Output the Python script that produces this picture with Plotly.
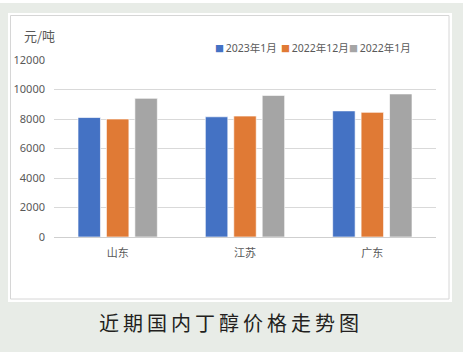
import plotly.graph_objects as go

categories = ["山东", "江苏", "广东"]
series_names = ["2023年1月", "2022年12月", "2022年1月"]
v_2023_01 = [8100, 8150, 8550]
v_2022_12 = [8000, 8200, 8450]
v_2022_01 = [9400, 9600, 9700]
colors = ["#4472C4", "#E07A35", "#A5A5A5"]
y_ticks = [0, 2000, 4000, 6000, 8000, 10000, 12000]
y_tick_labels = ["0", "2000", "4000", "6000", "8000", "10000", "12000"]
unit_label = "元/吨"
chart_title = "近期国内丁醇价格走势图"

W, H = 473, 352
L, R, T, B = 54, 37, 60, 115
pw, ph = W - L - R, H - T - B

def px(x):
    return (x - L) / pw

def py(y):
    return (H - B - y) / ph

fig = go.Figure()
for name, vals, c in zip(series_names, [v_2023_01, v_2022_12, v_2022_01], colors):
    fig.add_trace(go.Bar(x=categories, y=vals, name=name,
                         marker=dict(color=c, line=dict(color="rgba(255,255,255,0.8)", width=0.8)),
                         showlegend=False))

shapes = [
    dict(type="rect", xref="paper", yref="paper", x0=px(0), x1=px(W), y0=py(0), y1=py(3),
         fillcolor="white", line_width=0, layer="below"),
    dict(type="rect", xref="paper", yref="paper", x0=px(463), x1=px(W), y0=py(0), y1=py(H),
         fillcolor="white", line_width=0, layer="below"),
    dict(type="rect", xref="paper", yref="paper", x0=px(8), x1=px(452), y0=py(13), y1=py(302),
         fillcolor="white", line_width=0, layer="below"),
    dict(type="rect", xref="paper", yref="paper", x0=px(10.5), x1=px(449), y0=py(15.5), y1=py(299),
         fillcolor="rgba(0,0,0,0)", line=dict(color="#d6d6d6", width=1), layer="below"),
]

annotations = [
    dict(text=unit_label, xref="paper", yref="paper", x=px(22), y=py(36), xanchor="left", yanchor="middle",
         showarrow=False, font=dict(size=13, color="#595959", family="Noto Sans CJK SC")),
    dict(text="\u2009".join(chart_title), xref="paper", yref="paper", x=px(229), y=py(322),
         xanchor="center", yanchor="middle", showarrow=False,
         font=dict(size=20, color="#231f20", family="Noto Sans CJK SC")),
]
legend_x = [213, 279, 347]
for name, c, lx in zip(series_names, colors, legend_x):
    annotations.append(dict(
        text=f"<span style='color:{c};font-size:9px'>■</span>\u2009{name}",
        xref="paper", yref="paper", x=px(lx), y=py(48), xanchor="left", yanchor="middle",
        showarrow=False, font=dict(size=10.5, color="#595959", family="Noto Sans, Noto Sans CJK SC")))

fig.update_layout(
    width=W, height=H,
    margin=dict(l=L, r=R, t=T, b=B),
    paper_bgcolor="#e8ece7",
    plot_bgcolor="white",
    barmode="group",
    bargap=0.33,
    bargroupgap=0.21,
    shapes=shapes,
    annotations=annotations,
    font=dict(family="Noto Sans, Noto Sans CJK SC", color="#595959", size=11),
    xaxis=dict(showgrid=False, ticks="", showline=False,
               tickfont=dict(size=11, color="#595959", family="Noto Sans CJK SC"),
               ticklabelstandoff=8),
    yaxis=dict(range=[0, 12000], tickvals=y_ticks, ticktext=y_tick_labels,
               showgrid=True, gridcolor="#d9d9d9", gridwidth=1,
               zeroline=True, zerolinecolor="#cfcfcf", zerolinewidth=1, showline=False, ticks="",
               tickfont=dict(size=11, color="#595959"), ticklabelstandoff=8),
)

fig.write_html("out.html")
